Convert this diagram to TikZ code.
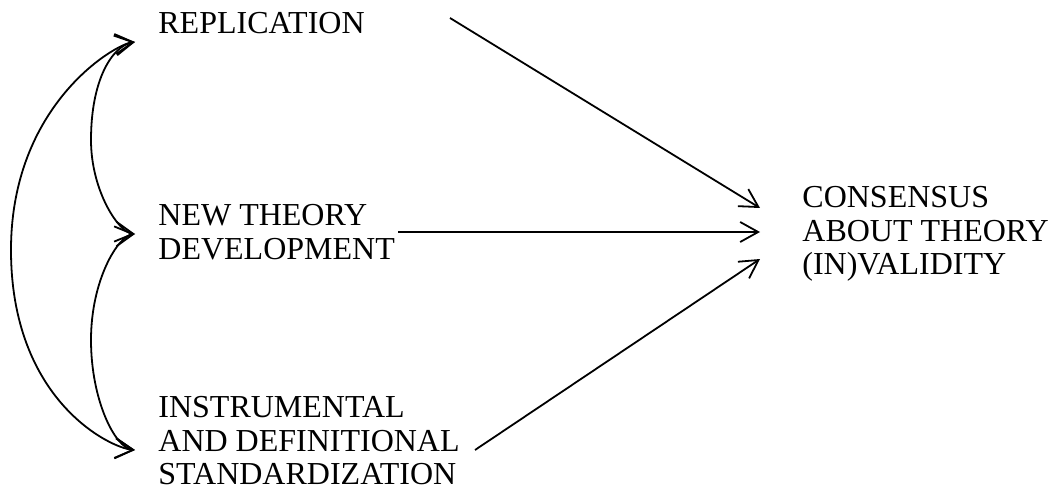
\documentclass[tikz,border=0pt]{standalone}
\usepackage{fontspec}
\setmainfont{Liberation Serif}
\usetikzlibrary{arrows.meta}
\begin{document}
\begin{tikzpicture}[x=0.5pt,y=-0.5pt,
  lbl/.style={anchor=north west, inner sep=0pt, align=left, font=\fontsize{16}{16.8}\selectfont},
  tipa/.tip={Straight Barb[length=9pt,width=10pt]},
  conn/.style={line width=0.9pt, -tipa},
  corr/.style={line width=0.9pt, tipa-tipa}]
\useasboundingbox (0,0) rectangle (1059,497);
% labels
\node[lbl] (rep) at (158,12) {REPLICATION};
\node[lbl] (ntd) at (158,204) {NEW THEORY\\DEVELOPMENT};
\node[lbl] (ids) at (158,396) {INSTRUMENTAL\\AND DEFINITIONAL\\STANDARDIZATION};
\node[lbl] (cons) at (802,186) {CONSENSUS\\ABOUT THEORY\\(IN)VALIDITY};
% connector ends
\coordinate (t1) at (135,42);
\coordinate (t2) at (135,234);
\coordinate (t3) at (135,450);
\coordinate (s1) at (450,18);
\coordinate (s2) at (398,232);
\coordinate (s3) at (475,450);
\coordinate (e1) at (760,208);
\coordinate (e2) at (760,232);
\coordinate (e3) at (760,259);
% correlations
\draw[corr] (t1) .. controls (115,44) and (11,105) .. (11,250) .. controls (11,400) and (110,448) .. (t3);
\draw[corr] (t1) .. controls (112,46) and (91,80) .. (91,140) .. controls (91,190) and (118,232) .. (t2);
\draw[corr] (t2) .. controls (118,236) and (91,280) .. (91,340) .. controls (91,400) and (115,448) .. (t3);
% effects
\draw[conn] (s1) -- (e1);
\draw[conn] (s2) -- (e2);
\draw[conn] (s3) -- (e3);
\end{tikzpicture}
\end{document}
